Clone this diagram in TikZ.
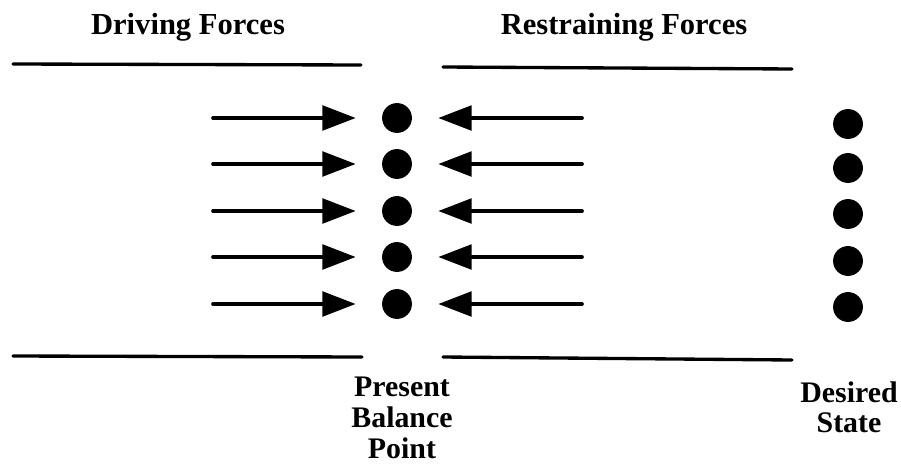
\documentclass[tikz,border=0pt]{standalone}
\usepackage{fontspec}
\setmainfont{Liberation Serif}
\usetikzlibrary{arrows.meta,positioning}
\tikzset{
  heading/.style={font=\bfseries\fontsize{17.4}{18}\selectfont, inner sep=0pt},
  note/.style={font=\bfseries\fontsize{17}{17.4}\selectfont, align=center, inner sep=0pt},
  dot/.style={circle, fill=black, minimum size=17pt, inner sep=0pt},
  force/.style={-{Triangle[length=19pt,width=14pt]}, line width=2.1pt, line cap=round, shorten >=14.8pt},
  bar/.style={line width=1.9pt, line cap=round}
}

\begin{document}
\begin{tikzpicture}[x=0.02cm, y=-0.02cm]
\useasboundingbox (0,0) rectangle (901,466);

% headings over the two sides
\node[heading, anchor=base] (drive) at (188,35) {Driving Forces};
\node[heading, anchor=base] (restrain) at (624,35) {Restraining Forces};

% top and bottom bars
\draw[bar] (13,64) -- (361,65);
\draw[bar] (443,67) -- (792,69);
\draw[bar] (13,356) -- (362,357);
\draw[bar] (443,357) -- (792,360);

% balance point with the forces pushing on it
\foreach \y [count=\i] in {118,164,211,257,304} {
  \node[dot] (p\i) at (397,\y) {};
  \coordinate (dl\i) at (213,\y);
  \coordinate (rl\i) at (582,\y);
  \draw[force] (dl\i) -- (p\i);
  \draw[force] (rl\i) -- (p\i);
}

% where things should end up
\foreach \y [count=\i] in {124,168,214,261,307}
  \node[dot] (d\i) at (848,\y) {};

\node[note, anchor=north] (present) at (402,377) {Present\\Balance\\Point};
\node[note, anchor=north] (desired) at (849,381) {Desired\\State};
\end{tikzpicture}
\end{document}
